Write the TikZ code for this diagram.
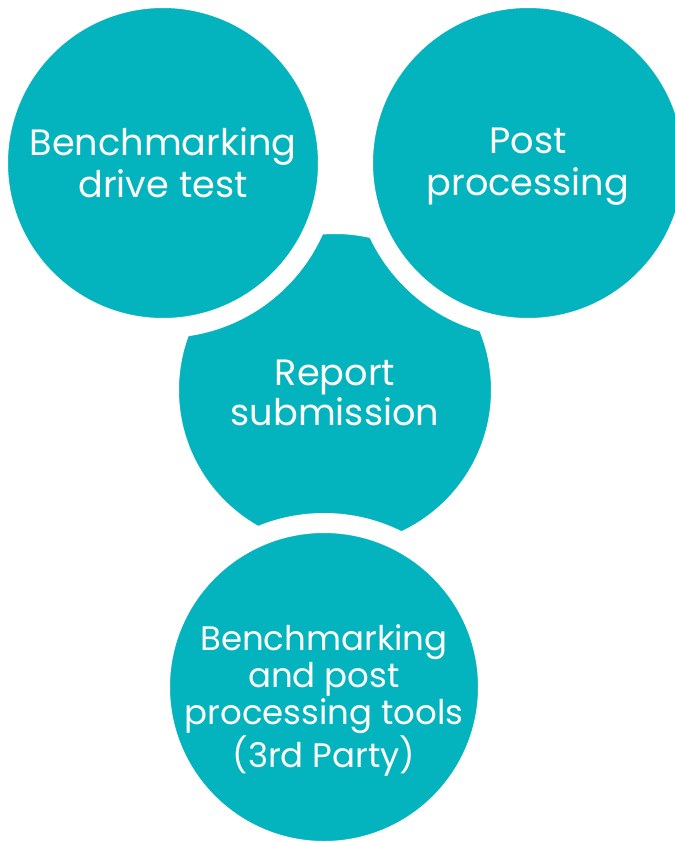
\documentclass[tikz,border=0pt]{standalone}
\usepackage{fontspec}
\setmainfont{Poppins}
\usepackage{tikz}
\usetikzlibrary{shapes,positioning}
\definecolor{tealfill}{RGB}{3,180,190}
\tikzstyle{bubble} = [circle, fill=tealfill, draw=white, line width=15pt,
    inner sep=0pt, minimum size=247.5pt]
\tikzstyle{label} = [text=white, align=center,
    font=\fontsize{27.5}{31.5}\selectfont]

\begin{document}
\begin{tikzpicture}[x=0.75pt, y=-0.75pt, node distance = 273.75pt]
    \useasboundingbox (0,0) rectangle (675,843);
    % Circles
    \node [bubble, minimum size=249pt] (report) at (335,390) {};
    \node [bubble] (drive) at (163,163) {};
    \node [bubble, right of=drive] (post) {};
    \node [bubble, minimum size=246pt] (tools) at (324,687) {};
    % Labels
    \node [label] at (drive) {Benchmarking\\drive test};
    \node [label, yshift=-3pt] at (post) {Post\\processing};
    \node [label, font=\fontsize{27.5}{30}\selectfont, yshift=-2pt] at (report) {Report\\submission};
    \node [label, font=\fontsize{25.5}{27.75}\selectfont, yshift=-10pt] at (tools)
        {Benchmarking\\and post\\processing tools\\(3rd Party)};
\end{tikzpicture}
\end{document}
